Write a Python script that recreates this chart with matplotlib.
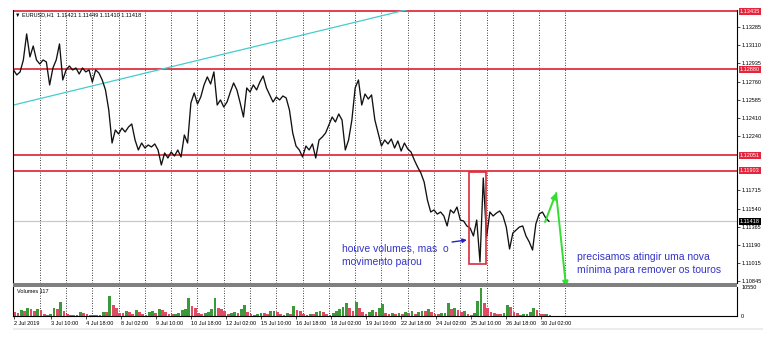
import numpy as np
import matplotlib
matplotlib.use('Agg')
from matplotlib import pyplot as plt
from matplotlib.patches import Rectangle

plt.rcParams['font.family'] = ['Liberation Sans', 'DejaVu Sans']

# EURUSD H1, fechamento lido a cada 3 barras
closes = [1.12872, 1.12824, 1.12853, 1.12968, 1.13218, 1.12997, 1.13102, 1.12968, 1.12929, 1.12968,
          1.12949, 1.12728, 1.12891, 1.12968, 1.13122, 1.12776, 1.12872, 1.12910, 1.12872, 1.12891,
          1.12833, 1.12891, 1.12853, 1.12872, 1.12756, 1.12872, 1.12843, 1.12776, 1.12680, 1.12487,
          1.12170, 1.12295, 1.12257, 1.12314, 1.12276, 1.12324, 1.12353, 1.12199, 1.12103, 1.12170,
          1.12122, 1.12151, 1.12132, 1.12161, 1.12103, 1.11959, 1.12074, 1.12026, 1.12084, 1.12045,
          1.12103, 1.12036, 1.12247, 1.12170, 1.12555, 1.12651, 1.12545, 1.12612, 1.12728, 1.12805,
          1.12737, 1.12853, 1.12535, 1.12584, 1.12516, 1.12564, 1.12660, 1.12747, 1.12680, 1.12555,
          1.12420, 1.12699, 1.12660, 1.12728, 1.12680, 1.12756, 1.12814, 1.12699, 1.12632, 1.12564,
          1.12612, 1.12584, 1.12622, 1.12603, 1.12487, 1.12266, 1.12141, 1.12103, 1.12036, 1.12141,
          1.12103, 1.12161, 1.12026, 1.12199, 1.12228, 1.12266, 1.12343, 1.12420, 1.12372, 1.12449,
          1.12391, 1.12103, 1.12199, 1.12391, 1.12699, 1.12776, 1.12535, 1.12641, 1.12593, 1.12632,
          1.12391, 1.12266, 1.12141, 1.12199, 1.12161, 1.12209, 1.12122, 1.12190, 1.12093, 1.12170,
          1.12113, 1.12084, 1.12007, 1.11940, 1.11882, 1.11795, 1.11622, 1.11507, 1.11527, 1.11487,
          1.11507, 1.11469, 1.11373, 1.11527, 1.11497, 1.11555, 1.11430, 1.11421, 1.11373, 1.11353,
          1.11277, 1.11430, 1.11027, 1.11834, 1.11267, 1.11507, 1.11469, 1.11497, 1.11517, 1.11469,
          1.11363, 1.11152, 1.11305, 1.11334, 1.11363, 1.11373, 1.11277, 1.11219, 1.11142, 1.11392,
          1.11487, 1.11507, 1.11450, 1.11418]

volumes = [1500, 1100, 2200, 1800, 3000, 2400, 1900, 2600, 2200, 700,
           500, 900, 3000, 2500, 5000, 1800, 600, 400, 300, 500,
           1400, 1200, 600, 300, 400, 500, 400, 1500, 1400, 7500,
           4200, 3000, 1200, 1000, 1700, 1300, 900, 2200, 1600, 700,
           500, 1400, 2000, 1000, 2400, 2100, 1500, 900, 600, 800,
           1000, 2200, 2400, 6700, 3600, 2800, 1200, 800, 1200, 1400,
           2400, 6700, 3000, 2500, 1800, 900, 1000, 1400, 1100, 2500,
           3900, 1500, 700, 500, 900, 1200, 1000, 600, 1700, 1800,
           1500, 700, 500, 1000, 900, 3600, 2200, 2000, 800, 500,
           700, 600, 1600, 1800, 1500, 700, 500, 1200, 1800, 2500,
           3300, 4700, 2800, 2000, 5100, 3000, 1500, 900, 1600, 2100,
           1300, 2800, 4500, 1200, 600, 1000, 700, 1100, 600, 1400,
           1200, 1800, 900, 1500, 2000, 1700, 2700, 1400, 800, 700,
           1000, 1200, 4700, 2500, 3000, 2200, 1500, 1800, 700, 500,
           1000, 5700, 10500, 4800, 2800, 1500, 1200, 700, 600, 1000,
           4200, 3500, 1500, 1200, 500, 600, 900, 1600, 3000, 2200,
           800, 600, 700, 400]

step = 3
bars = np.arange(len(closes)) * step

time_labels = ['2 Jul 2019', '3 Jul 10:00', '4 Jul 18:00', '8 Jul 02:00', '9 Jul 10:00',
               '10 Jul 18:00', '12 Jul 02:00', '15 Jul 10:00', '16 Jul 18:00', '18 Jul 02:00',
               '19 Jul 10:00', '22 Jul 18:00', '24 Jul 02:00', '25 Jul 10:00', '26 Jul 18:00',
               '30 Jul 02:00']
label_bars = [0] + [34 + 32 * k for k in range(15)]
grid_bars = list(range(24, 505, 24))

price_ticks = [1.13285, 1.13110, 1.12935, 1.12760, 1.12585, 1.12410, 1.12240,
               1.11715, 1.11540, 1.11365, 1.11190, 1.11015, 1.10845]
levels = [1.13435, 1.12880, 1.12051, 1.11903]
bid = 1.11418
trend_bars = [0, 362]
trend_prices = [1.12535, 1.13458]

W, H = 778, 339
fig = plt.figure(figsize=(W / 100, H / 100), dpi=100)


def box(l, t, r, b):
    return [l / W, 1 - b / H, (r - l) / W, (b - t) / H]


ax = fig.add_axes(box(13, 10, 737, 283))
axv = fig.add_axes(box(13, 287, 737, 316), sharex=ax)

# grade vertical pontilhada
for g in grid_bars:
    ax.axvline(g, color='black', ls=(0, (1, 2)), lw=0.6, zorder=1)
    axv.axvline(g, color='black', ls=(0, (1, 2)), lw=0.6, zorder=1)

ax.axhline(bid, color='#c8c8c8', lw=0.9, zorder=1)
for lv in levels:
    ax.axhline(lv, color='#e0404f', lw=1.4, zorder=2)
ax.plot(trend_bars, trend_prices, color='#45cccc', lw=0.9, zorder=2)
ax.plot(bars, closes, color='#111111', lw=0.95, zorder=3)

ax.set_xlim(-0.46, 660.7)
ax.set_ylim(1.10825, 1.13448)

ax.yaxis.tick_right()
ax.set_yticks(price_ticks)
ax.set_yticklabels([f'{p:.5f}' for p in price_ticks])
ax.tick_params(axis='y', labelsize=4, length=2, width=0.5, pad=1.5)
ax.tick_params(axis='x', bottom=False, labelbottom=False)
for s in ['top', 'bottom']:
    ax.spines[s].set_visible(False)
for s in ['left', 'right']:
    ax.spines[s].set_linewidth(0.8)

# etiquetas coloridas no eixo de preço
ytr = ax.get_yaxis_transform()
for lv in levels:
    ax.text(1.004, lv, f'{lv:.5f}', transform=ytr, color='white', fontsize=4, va='center',
            ha='left', bbox=dict(boxstyle='square,pad=0.2', fc='#e3263b', ec='none'), clip_on=False)
ax.text(1.004, bid, f'{bid:.5f}', transform=ytr, color='white', fontsize=4, va='center',
        ha='left', bbox=dict(boxstyle='square,pad=0.2', fc='black', ec='none'), clip_on=False)

ax.text(0.003, 0.99, '\u25bc EURUSD,H1  1.11421 1.11449 1.11410 1.11418', transform=ax.transAxes,
        fontsize=4, va='top', ha='left')

# anotações
txt_color = '#3535c8'
ax.text(300, 1.11161, 'houve volumes, mas  o', color=txt_color, fontsize=7.5, va='center')
ax.text(300, 1.11027, 'movimento parou', color=txt_color, fontsize=7.5, va='center')
ax.annotate('', xy=(414, 1.11238), xytext=(400.5, 1.11219),
            arrowprops=dict(arrowstyle='-|>', color='#2020d0', lw=1.0, mutation_scale=6,
                            shrinkA=0, shrinkB=0))
ax.add_patch(Rectangle((416, 1.11007), 15.5, 1.11892 - 1.11007, fill=False,
                       ec='#d92b3a', lw=1.2, zorder=4))
ax.text(515, 1.11075, 'precisamos atingir uma nova', color=txt_color, fontsize=7.5, va='center')
ax.text(515, 1.10950, 'mínima para remover os touros', color=txt_color, fontsize=7.5, va='center')
ax.annotate('', xy=(495.5, 1.11690), xytext=(485.4, 1.11411), annotation_clip=False,
            arrowprops=dict(arrowstyle='-|>', color='#33dd33', lw=1.4, mutation_scale=8,
                            shrinkA=0, shrinkB=0))
ax.annotate('', xy=(504.6, 1.10786), xytext=(495.5, 1.11690), annotation_clip=False,
            arrowprops=dict(arrowstyle='-|>', color='#33dd33', lw=1.4, mutation_scale=8,
                            shrinkA=0, shrinkB=0))

# volumes: verde quando maior que o anterior
vcol = ['#3a9a3a' if i > 0 and volumes[i] > volumes[i - 1] else '#e04b64'
        for i in range(len(volumes))]
axv.bar(bars + 1, volumes, width=2.5, color=vcol, lw=0, zorder=2)
axv.set_ylim(0, 10700)
axv.yaxis.tick_right()
axv.set_yticks([0, 10550])
axv.set_yticklabels(['0', '10550'])
axv.tick_params(axis='y', labelsize=4, length=0, pad=3)
axv.set_xticks(label_bars)
axv.set_xticklabels(time_labels, ha='left')
axv.tick_params(axis='x', labelsize=4, length=2, width=0.5, pad=1.5)
axv.spines['top'].set_visible(False)
for s in ['left', 'right', 'bottom']:
    axv.spines[s].set_linewidth(0.8)
axv.text(0.006, 0.93, 'Volumes 117', transform=axv.transAxes, fontsize=4, va='top', ha='left')

# separador entre os painéis e faixa inferior
fig.patches.append(Rectangle((13 / W, 1 - 287 / H), 724 / W, 4 / H, transform=fig.transFigure,
                             fc='#808080', ec='none'))
fig.patches.append(Rectangle((13 / W, 1 - 330 / H), 750 / W, 2 / H, transform=fig.transFigure,
                             fc='#ececec', ec='none'))

fig.savefig('out.png', dpi=100)
